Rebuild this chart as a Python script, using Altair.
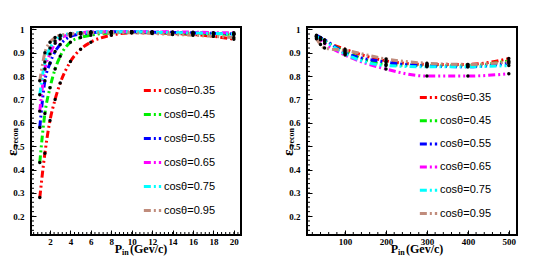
import altair as alt
import pandas as pd
import numpy as np

labels = ["cosθ=0.35", "cosθ=0.45", "cosθ=0.55", "cosθ=0.65", "cosθ=0.75", "cosθ=0.95"]
colors = ["#ff0000", "#00ee00", "#0000ff", "#ff00ff", "#00ffff", "#c08c7c"]

# Left panel: low momentum
left_x = [1, 1.5, 2, 2.5, 3, 4, 5, 6, 8, 10, 12, 14, 16, 18, 20]
left_035 = [0.28, 0.47, 0.61, 0.70, 0.77, 0.862, 0.915, 0.945, 0.975, 0.985, 0.985, 0.982, 0.978, 0.97, 0.958]
left_045 = [0.43, 0.64, 0.75, 0.83, 0.885, 0.945, 0.965, 0.975, 0.985, 0.988, 0.987, 0.985, 0.983, 0.981, 0.978]
left_055 = [0.58, 0.78, 0.855, 0.905, 0.935, 0.97, 0.98, 0.985, 0.99, 0.99, 0.988, 0.987, 0.985, 0.983, 0.98]
left_065 = [0.65, 0.83, 0.895, 0.94, 0.96, 0.98, 0.985, 0.99, 0.99, 0.99, 0.99, 0.989, 0.988, 0.986, 0.985]
left_075 = [0.72, 0.86, 0.92, 0.95, 0.97, 0.982, 0.986, 0.988, 0.99, 0.99, 0.988, 0.986, 0.984, 0.982, 0.98]
left_095 = [0.78, 0.90, 0.945, 0.965, 0.975, 0.98, 0.982, 0.985, 0.985, 0.985, 0.982, 0.978, 0.975, 0.97, 0.965]

# Right panel: high momentum
right_x = [30, 40, 50, 100, 200, 300, 400, 500]
right_035 = [0.97, 0.96, 0.95, 0.915, 0.865, 0.85, 0.85, 0.875]
right_045 = [0.97, 0.96, 0.95, 0.905, 0.85, 0.845, 0.845, 0.865]
right_055 = [0.975, 0.965, 0.955, 0.90, 0.86, 0.843, 0.84, 0.855]
right_065 = [0.965, 0.955, 0.94, 0.89, 0.83, 0.80, 0.80, 0.81]
right_075 = [0.97, 0.96, 0.95, 0.895, 0.845, 0.84, 0.84, 0.845]
right_095 = [0.96, 0.935, 0.92, 0.91, 0.873, 0.855, 0.85, 0.86]

y_ticks = [0.2, 0.3, 0.4, 0.5, 0.6, 0.7, 0.8, 0.9, 1.0]
left_xticks = [2, 4, 6, 8, 10, 12, 14, 16, 18, 20]
right_xticks = [100, 200, 300, 400, 500]

W, H = 210, 208
SERIF = "Liberation Serif"
SANS = "Liberation Sans"


def long_df(xs, series, key):
    rows = []
    for lab, vals in zip(labels, series):
        for x, v in zip(xs, vals):
            rows.append({"x": x, "y": v, key: lab})
    return pd.DataFrame(rows)


def panel(key, xs, series, xdomain, xticks, minor_step, legend_x, legend_y, row_pad):
    df = long_df(xs, series, key)
    xscale = alt.Scale(domain=xdomain, nice=False, zero=False)
    yscale = alt.Scale(domain=[0.12, 1.01], nice=False, zero=False)
    xaxis = alt.Axis(values=xticks, offset=-5, tickSize=5, domain=False, grid=False,
                     labelFont=SERIF, labelFontWeight="bold", labelFontSize=9,
                     labelColor="black", tickColor="black", labelPadding=2, title=None,
                     labelFlush=False, labelOverlap=False)
    yaxis = alt.Axis(values=y_ticks, offset=-5, tickSize=5, domain=False, grid=False,
                     labelFont=SERIF, labelFontWeight="bold", labelFontSize=9,
                     labelColor="black", tickColor="black", labelPadding=7, title=None,
                     labelOverlap=False,
                     labelExpr="datum.value == 1 ? '1' : format(datum.value, '.1f')")
    X = alt.X("x:Q", scale=xscale, axis=xaxis)
    Y = alt.Y("y:Q", scale=yscale, axis=yaxis)
    base = alt.Chart(df)
    lines = base.mark_line(strokeWidth=3, strokeDash=[7, 3, 2, 3, 2, 3], interpolate="monotone").encode(
        x=X, y=Y,
        color=alt.Color(f"{key}:N", scale=alt.Scale(domain=labels, range=colors),
                        legend=alt.Legend(orient="none", legendX=legend_x, legendY=legend_y,
                                          title=None, symbolType="stroke", symbolSize=300,
                                          symbolStrokeWidth=3, symbolDash=[7, 3, 2, 3],
                                          labelFont=SANS, labelFontSize=11, labelColor="black",
                                          labelOffset=1, rowPadding=row_pad, padding=0)),
        detail=f"{key}:N",
    )
    pts = base.mark_circle(color="black", size=12, opacity=1).encode(x=X, y=Y)
    ymin = pd.DataFrame({"y": np.round(np.arange(0.14, 1.001, 0.02), 3)})
    minor_y = alt.Chart(ymin).mark_rule(color="black", strokeWidth=1).encode(
        y=Y, x=alt.value(0), x2=alt.value(3))
    xmin = pd.DataFrame({"x": np.round(np.arange(minor_step, xdomain[1], minor_step), 3)})
    xmin = xmin[xmin.x > xdomain[0]]
    minor_x = alt.Chart(xmin).mark_rule(color="black", strokeWidth=1).encode(
        x=X, y=alt.value(H), y2=alt.value(H - 3))
    tp = alt.Chart(pd.DataFrame({"a": [0]}))
    frame = tp.mark_rect(fillOpacity=0, stroke="black", strokeWidth=2).encode(
        x=alt.value(0), x2=alt.value(W), y=alt.value(0), y2=alt.value(H))
    t_p = tp.mark_text(text="P", font=SERIF, fontWeight="bold", fontSize=12, align="right",
                       baseline="alphabetic", color="black").encode(x=alt.value(91), y=alt.value(226))
    t_in = tp.mark_text(text="in", font=SERIF, fontWeight="bold", fontSize=8, align="left",
                        baseline="alphabetic", color="black").encode(x=alt.value(91), y=alt.value(228))
    t_gev = tp.mark_text(text="(Gev/c)", font=SERIF, fontWeight="bold", fontSize=12, align="left",
                         baseline="alphabetic", color="black").encode(x=alt.value(99), y=alt.value(226))
    t_eps = tp.mark_text(text="ε", font=SERIF, fontWeight="bold", fontSize=15, align="left",
                         baseline="alphabetic", angle=270, color="black").encode(x=alt.value(-14), y=alt.value(129))
    t_rec = tp.mark_text(text="recon", font=SERIF, fontWeight="bold", fontSize=8, align="left",
                         baseline="alphabetic", angle=270, color="black").encode(x=alt.value(-13), y=alt.value(120))
    return alt.layer(lines, pts, minor_y, minor_x, frame, t_p, t_in, t_gev, t_eps, t_rec).properties(
        width=W, height=H)


left = panel("series_low", left_x, [left_035, left_045, left_055, left_065, left_075, left_095],
             [0.14, 20.7], left_xticks, 0.4, 111, 53, 7)
right = panel("series_high", right_x, [right_035, right_045, right_055, right_065, right_075, right_095],
              [7, 520], right_xticks, 20, 111, 60, 6.2)

chart = alt.hconcat(left, right, spacing=37).resolve_scale(color="independent", x="independent").properties(
    padding={"left": -4, "top": 16, "right": 0, "bottom": 0}
).configure(background="white").configure_view(stroke="black", strokeWidth=2)

chart.save("out.html", embed_options={"renderer": "svg", "actions": False})
